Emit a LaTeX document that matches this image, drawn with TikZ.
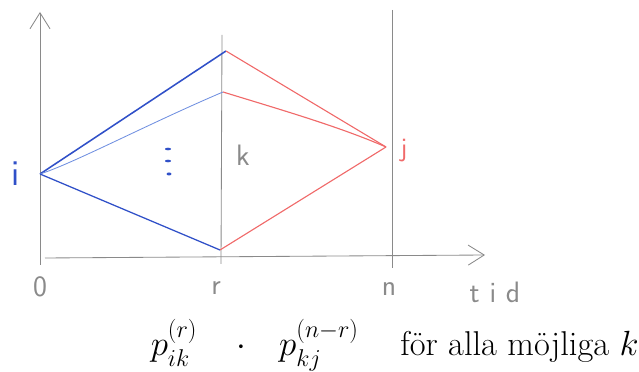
\documentclass[tikz,border=0pt]{standalone}
\usepackage{amsmath}
\usepackage{tikz}
\usetikzlibrary{arrows.meta,positioning,calc}
\definecolor{Pencil}{HTML}{8A8A8A}
\definecolor{PenBlue}{HTML}{3050C8}
\definecolor{LightBlue}{HTML}{6F8FE0}
\definecolor{PenRed}{HTML}{F06A6A}

\begin{document}
\begin{tikzpicture}[x=0.025cm,y=-0.025cm,
  every node/.style={font=\fontsize{24.5}{28}\selectfont},
  axis/.style={Pencil,line width=0.6pt},
  hand/.style={Pencil,font=\fontsize{21}{24}\selectfont\sffamily},
  bluepath/.style={PenBlue,line width=0.9pt},
  redpath/.style={PenRed,line width=0.8pt}
]
\useasboundingbox (0,0) rectangle (639,372);
% axes and time lines
\coordinate (o) at (40,265);
\coordinate (top) at (40,12);
\coordinate (xend) at (485,255);
\coordinate (xstart) at (45,258);
\draw[axis,-{Straight Barb[length=4mm,width=5mm]}] (o) -- (top);
\draw[axis,-{Straight Barb[length=4mm,width=5mm]}] (xstart) -- (xend);
\coordinate (rtop) at (222,35);
\coordinate (rbot) at (221,264);
\draw[axis] (rtop) -- (rbot);
\coordinate (ntop) at (392,10);
\coordinate (nbot) at (392,268);
\draw[axis] (ntop) -- (nbot);
% states
\coordinate (i) at (40,174);
\coordinate (k1) at (226,51);
\coordinate (k2) at (223,92);
\coordinate (k3) at (220,250);
\coordinate (j) at (386,147);
\node[hand,PenBlue,font=\fontsize{26}{28}\selectfont\sffamily] (ilab) at (16,174) {i};
\node[hand,PenRed,font=\fontsize{19}{22}\selectfont\sffamily] (jlab) at (404,151) {j};
\node[hand] (klab) at (243,155) {k};
\fill[PenBlue] (168,149) ellipse (3 and 1.3);
\fill[PenBlue] (168,161) ellipse (3 and 1.3);
\fill[PenBlue] (169,174) ellipse (2.5 and 1.5);
% paths i -> k -> j
\draw[bluepath,line width=1.1pt] (i) -- (k1);
\draw[LightBlue,line width=0.6pt] (i) .. controls (72,164) and (150,123) .. (k2);
\draw[bluepath] (i) -- (k3);
\draw[redpath] (k1) -- (j);
\draw[redpath] (k2) .. controls (285,111) and (340,127) .. (j);
\draw[redpath] (k3) -- (j);
% time labels
\node[hand] (zero) at (40,287) {0};
\node[hand] (rlab) at (216,288) {r};
\node[hand] (nlab) at (389,289) {n};
\node[hand] (tid) at (495,292) {t\,\,i\,\,d};
% formula
\node[anchor=base] (pik) at (174,356) {$p_{ik}^{(r)}$};
\node[anchor=base] (dot) at (241,356) {$\cdot$};
\node[anchor=base] (pkj) at (319,356) {$p_{kj}^{(n-r)}$};
\node[anchor=base west,inner sep=0pt] (text) at (400,356) {för alla möjliga $k$};
\end{tikzpicture}
\end{document}
